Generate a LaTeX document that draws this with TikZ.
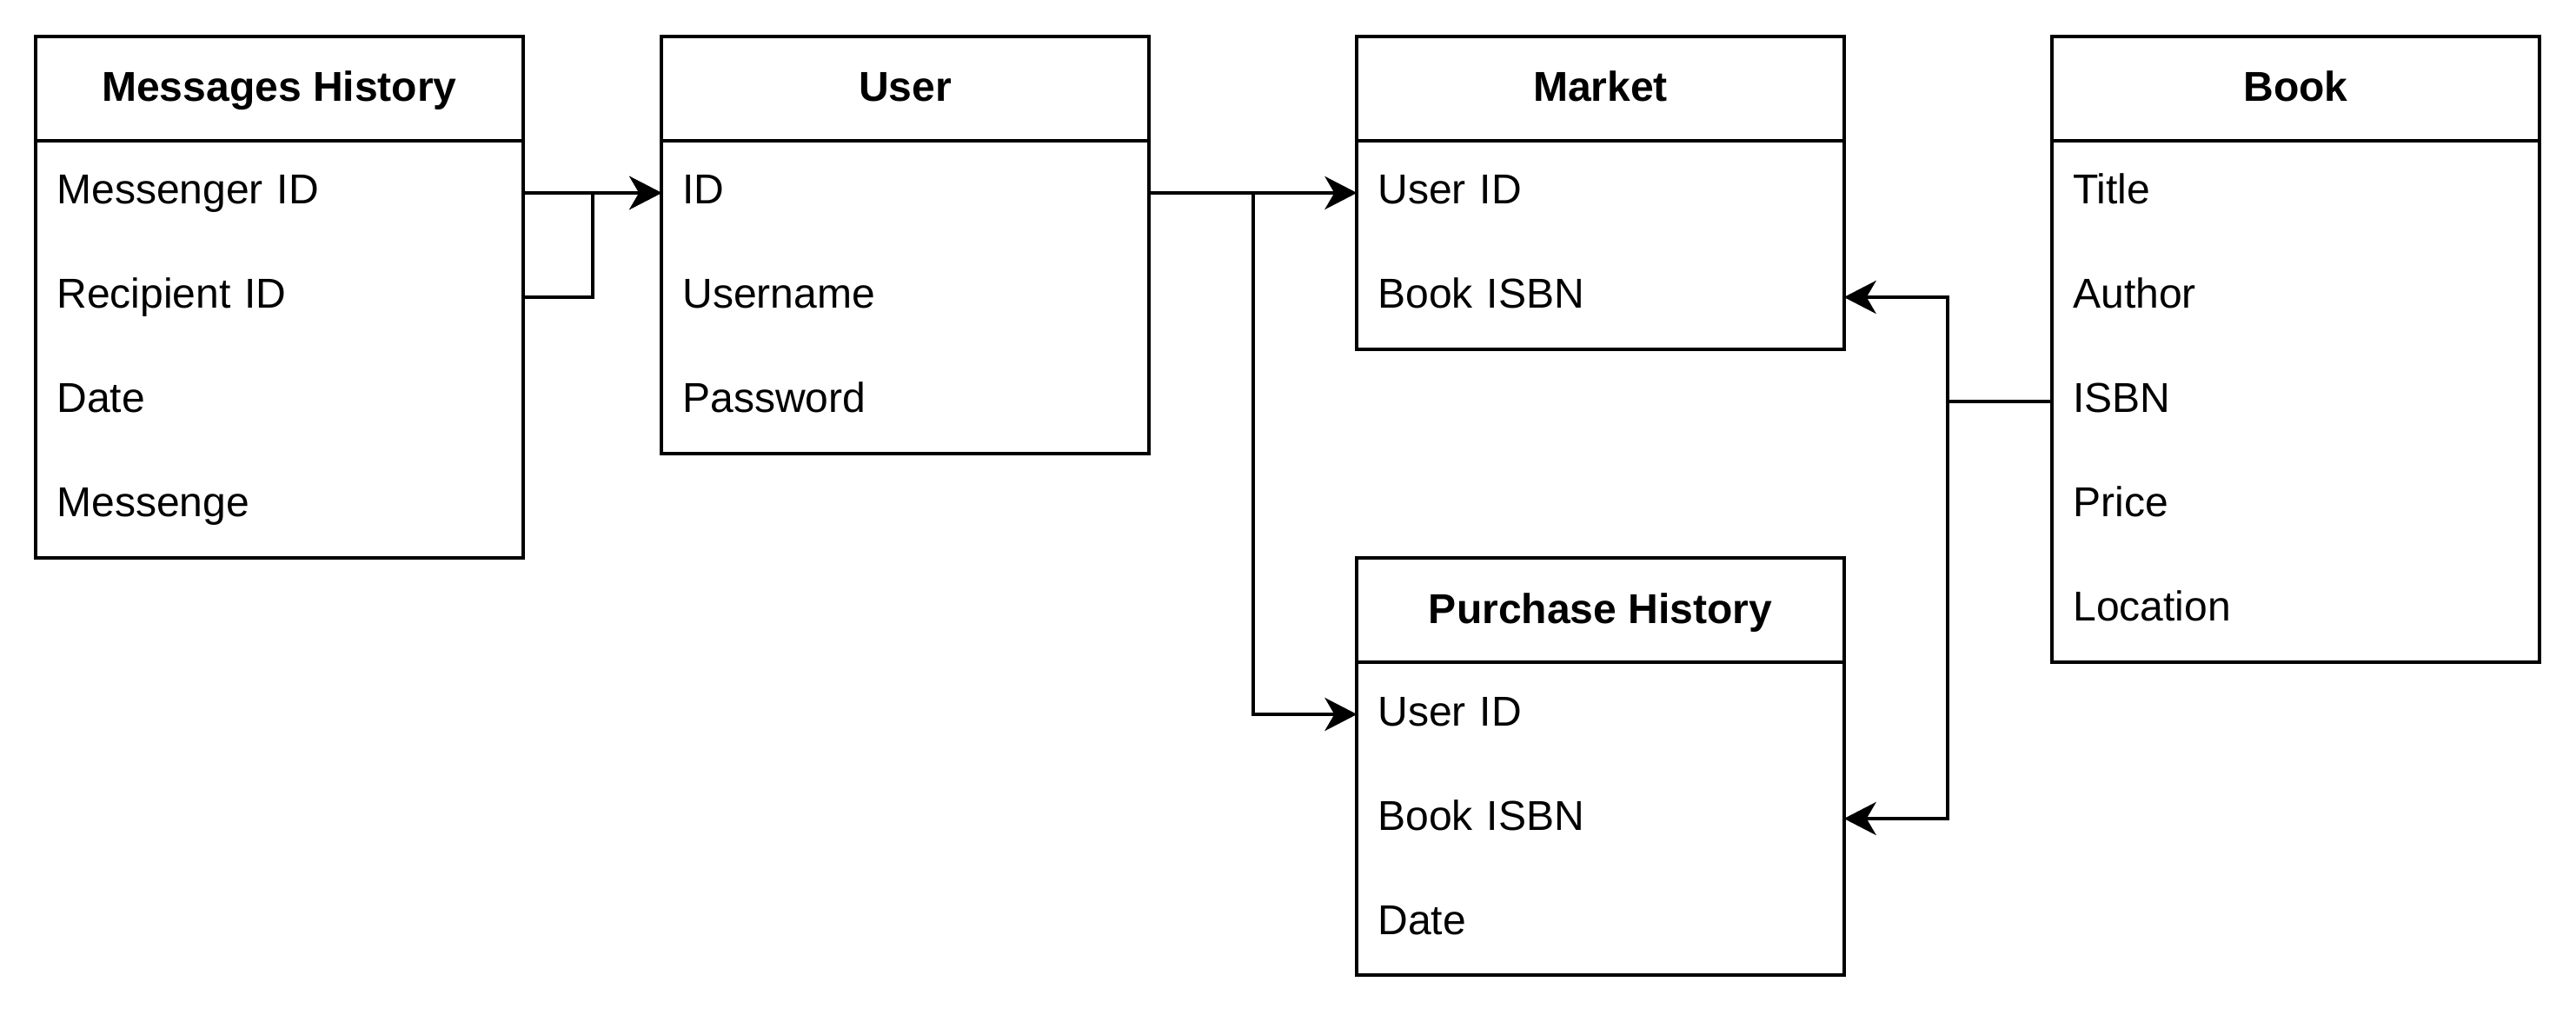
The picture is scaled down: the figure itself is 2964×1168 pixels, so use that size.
\documentclass[tikz,border=0pt]{standalone}
\usepackage{fontspec}
\setmainfont{Liberation Sans}
\usetikzlibrary{arrows.meta}
\newcommand\tblfont{\fontsize{13.66pt}{16pt}\selectfont}
\tikzset{
  hdr/.style={draw, line width=1.13pt, minimum width=5.6cm, minimum height=1.2cm, inner sep=0pt,
    outer sep=0pt, font=\bfseries\tblfont, text height=0.42cm, text depth=0.12cm},
  fieldrow/.style={minimum width=5.6cm, minimum height=1.2cm, inner xsep=0.24cm, inner ysep=0pt,
    outer sep=0pt, text width=5.12cm, align=left, font=\tblfont, text height=0.40cm, text depth=0.14cm},
  body/.style={draw, line width=1.13pt},
  conn/.style={draw, line width=1.13pt, -{Stealth[length=0.37cm, width=0.38cm, inset=0.11cm]}},
}
\begin{document}
\begin{tikzpicture}[x=0.01cm, y=-0.01cm]
\path[use as bounding box, fill=white] (0,0) rectangle (2964,1168);

% Messages History
\node[hdr] (mh) at (321.5,102) {Messages History};
\node[fieldrow] (mh1) at (321.5,222) {Messenger ID};
\node[fieldrow] (mh2) at (321.5,342) {Recipient ID};
\node[fieldrow] (mh3) at (321.5,462) {Date};
\node[fieldrow] (mh4) at (321.5,582) {Messenge};
\draw[body] (mh.south west) rectangle (mh4.south east);

% User
\node[hdr] (u) at (1041.5,102) {User};
\node[fieldrow] (u1) at (1041.5,222) {ID};
\node[fieldrow] (u2) at (1041.5,342) {Username};
\node[fieldrow] (u3) at (1041.5,462) {Password};
\draw[body] (u.south west) rectangle (u3.south east);

% Market
\node[hdr] (m) at (1841.5,102) {Market};
\node[fieldrow] (m1) at (1841.5,222) {User ID};
\node[fieldrow] (m2) at (1841.5,342) {Book ISBN};
\draw[body] (m.south west) rectangle (m2.south east);

% Book
\node[hdr] (b) at (2641.5,102) {Book};
\node[fieldrow] (b1) at (2641.5,222) {Title};
\node[fieldrow] (b2) at (2641.5,342) {Author};
\node[fieldrow] (b3) at (2641.5,462) {ISBN};
\node[fieldrow] (b4) at (2641.5,582) {Price};
\node[fieldrow] (b5) at (2641.5,702) {Location};
\draw[body] (b.south west) rectangle (b5.south east);

% Purchase History
\node[hdr] (p) at (1841.5,702) {Purchase History};
\node[fieldrow] (p1) at (1841.5,822) {User ID};
\node[fieldrow] (p2) at (1841.5,942) {Book ISBN};
\node[fieldrow] (p3) at (1841.5,1062) {Date};
\draw[body] (p.south west) rectangle (p3.south east);

% Connectors
\draw[conn] (mh1.east) -- (u1.west);
\draw[conn] (mh2.east) -- ++(0.8cm,0) |- (u1.west);
\draw[conn] (u1.east) -- (m1.west);
\draw[conn] (u1.east) -- ++(1.2cm,0) |- (p1.west);
\draw[conn] (b3.west) -- ++(-1.2cm,0) |- (m2.east);
\draw[conn] (b3.west) -- ++(-1.2cm,0) |- (p2.east);
\end{tikzpicture}
\end{document}
